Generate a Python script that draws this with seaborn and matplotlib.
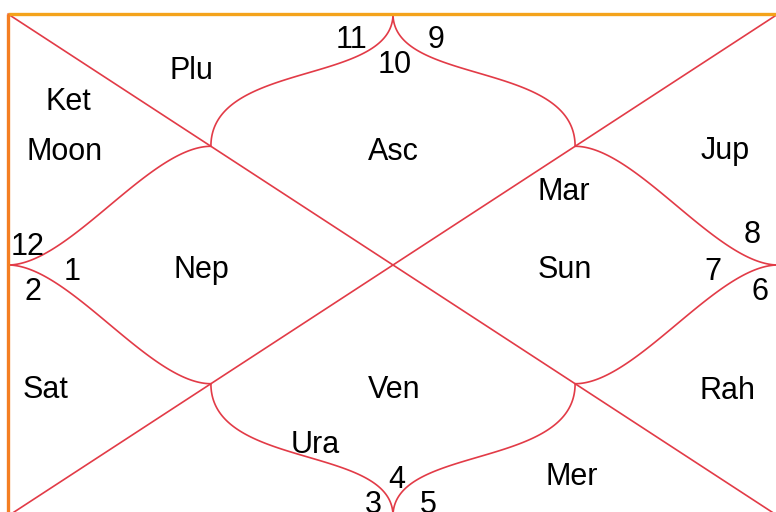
import numpy as np
import pandas as pd
import matplotlib.pyplot as plt
import seaborn as sns

# Chart data: sign number in each house (house 1 = top diamond) and planets in it
signs = [10, 11, 12, 1, 2, 3, 4, 5, 6, 7, 8, 9]
planets = [["Asc"], ["Plu"], ["Ket", "Moon"], ["Nep"], ["Sat"], ["Ura"],
           ["Ven"], ["Mer"], ["Rah"], ["Mar", "Sun"], ["Jup"], []]

# Layout (pixel space of the image)
X0, Y0, X1, Y1 = 8, 14, 778, 516
CX, CY = (X0 + X1) / 2, (Y0 + Y1) / 2
F = 0.473  # junction points, fraction of half-size from centre

sign_pos = [(395, 73), (352, 48), (28, 255), (72, 280), (33, 300), (373, 513),
            (397, 488), (428, 513), (760, 300), (713, 280), (752, 243), (436, 48)]
planet_pos = [[(393, 160)], [(191, 79)], [(68, 110), (65, 160)], [(201, 278)],
              [(46, 398)], [(315, 453)], [(394, 398)], [(572, 485)],
              [(727, 399)], [(564, 200), (565, 278)], [(725, 159)], []]

sns.set_theme(style="white")
plt.rcParams['font.family'] = ['Liberation Sans', 'DejaVu Sans']

fig = plt.figure(figsize=(7.76, 5.12), dpi=100)
ax = fig.add_axes([0, 0, 1, 1])


def bezier(p0, p1, p2, p3, n=100):
    t = np.linspace(0, 1, n)[:, None]
    p0, p1, p2, p3 = map(np.array, (p0, p1, p2, p3))
    return (1 - t) ** 3 * p0 + 3 * (1 - t) ** 2 * t * p1 + 3 * (1 - t) * t ** 2 * p2 + t ** 3 * p3


hx, hy = (X1 - X0) / 2, (Y1 - Y0) / 2
jx, jy = F * hx, F * hy
junc = {"tl": (CX - jx, CY - jy), "tr": (CX + jx, CY - jy),
        "bl": (CX - jx, CY + jy), "br": (CX + jx, CY + jy)}

segs = []
# diagonals
segs.append(np.array([[X0, Y0], [X1, Y1]]))
segs.append(np.array([[X0, Y1], [X1, Y0]]))
# curved inner diamond
for cusp, a, b, vertical in [((CX, Y0), "tl", "tr", True), ((CX, Y1), "bl", "br", True),
                             ((X0, CY), "tl", "bl", False), ((X1, CY), "tr", "br", False)]:
    for key in (a, b):
        j = junc[key]
        if vertical:
            d = j[1] - cusp[1]
            segs.append(bezier(cusp, (cusp[0], cusp[1] + 0.54 * d), (j[0], j[1] - 0.65 * d), j))
        else:
            d = j[0] - cusp[0]
            segs.append(bezier(cusp, (cusp[0] + 0.3 * d, cusp[1]), (j[0] - 0.3 * d, j[1]), j))

df = pd.concat([pd.DataFrame({"x": s[:, 0], "y": s[:, 1], "seg": i}) for i, s in enumerate(segs)])
sns.lineplot(data=df, x="x", y="y", units="seg", estimator=None, sort=False,
             color="#e23b47", lw=1.2, ax=ax)

# outer border (only top and left visible)
ax.plot([X0, X1], [Y0, Y0], color="#f4a31b", lw=2.4, solid_capstyle="butt")
ax.plot([X0, X0], [Y0, Y1], color="#f47e22", lw=2.4, solid_capstyle="butt")

for s, (x, y) in zip(signs, sign_pos):
    ax.text(x, y, str(s), fontsize=22, ha="center", va="baseline", color="black")
for names, poss in zip(planets, planet_pos):
    for name, (x, y) in zip(names, poss):
        ax.text(x, y, name, fontsize=22, ha="center", va="baseline", color="black")

ax.set_xlim(0, 776)
ax.set_ylim(512, 0)
ax.axis("off")
fig.savefig("out.png", dpi=100, facecolor="white")
